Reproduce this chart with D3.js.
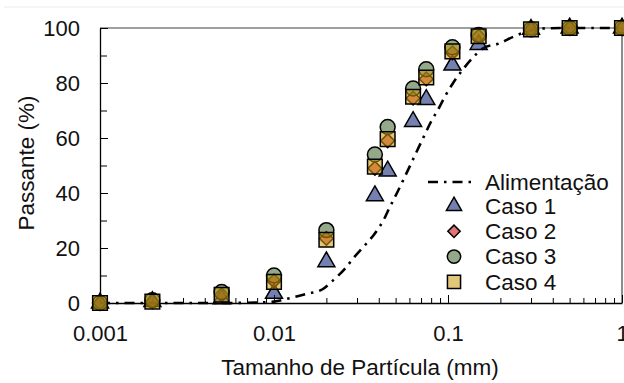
<!DOCTYPE html>
<html>
<head>
<meta charset="utf-8">
<script src="https://cdn.jsdelivr.net/npm/d3@7"></script>
<style>
  body { margin: 0; background: #fff; }
  svg { display: block; font-family: "Liberation Sans", Arial, sans-serif; }
</style>
</head>
<body>
<svg id="chart"></svg>
<script>
// sieve sizes (mm) and passing (%) per case
const sizes = [0.001, 0.002, 0.005, 0.01, 0.02, 0.038, 0.045, 0.063, 0.075, 0.106, 0.15, 0.3, 0.5, 1];
const caso1 = [0, 0.5, 1.5, 3.5, 15, 39, 48, 66, 74, 86.5, 94, 99.5, 100, 100];
const caso2 = [0, 0.5, 3, 8, 23.5, 49, 59, 74.5, 81.5, 91, 97, 99.5, 100, 100];
const caso3 = [0, 1, 4, 10, 26.5, 54, 64, 78, 85, 93, 97.5, 99.5, 100, 100];
const caso4 = [0, 0.5, 3, 7.7, 23, 49.6, 59.6, 75, 82, 91.5, 97, 99.5, 100, 100];

// feed curve (Alimentação)
const feedX = [0.001, 0.002, 0.005, 0.008, 0.01, 0.0126, 0.0154, 0.019, 0.022, 0.0256, 0.029, 0.033, 0.038,
  0.0425, 0.0464, 0.0509, 0.0553, 0.0606, 0.066, 0.0726, 0.08, 0.0878, 0.0958, 0.107, 0.122, 0.138,
  0.159, 0.197, 0.237, 0.28, 0.37, 0.5, 1];
const feedY = [0, 0, 0, 0.2, 0.5, 1.9, 3.3, 5, 8.4, 12.5, 16.8, 20.7, 25.3,
  30, 35, 40, 44.7, 50, 55, 60.5, 66, 70.4, 75, 80, 85, 89,
  92.6, 94.4, 96.8, 98.6, 99.9, 100, 100];

const xTicks = [0.001, 0.01, 0.1, 1];
const xTickLabels = ["0.001", "0.01", "0.1", "1"];
const yTicks = [0, 20, 40, 60, 80, 100];

const seriesNames = ["Caso 1", "Caso 2", "Caso 3", "Caso 4"];
const seriesValues = [caso1, caso2, caso3, caso4];
const seriesShapes = [d3.symbolTriangle, d3.symbolSquare, d3.symbolCircle, d3.symbolSquare];
const seriesRotate = [0, 45, 0, 0];
const seriesColors = ["#00186f", "#c60000", "#3a622a", "#ca990d"];
const seriesSizes = [125, 95, 175, 215];

const width = 624, height = 383;
const margin = {top: 28, right: 2, bottom: 80, left: 100};
const w = width - margin.left - margin.right;
const h = height - margin.top - margin.bottom;

const svg = d3.select("#chart").attr("width", width).attr("height", height);

svg.append("line")
  .attr("x1", 4).attr("x2", width).attr("y1", 7).attr("y2", 7)
  .attr("stroke", "#ebebeb");

const g = svg.append("g").attr("transform", `translate(${margin.left},${margin.top})`);

const x = d3.scaleLog().domain([0.001, 1]).range([0, w]);
const y = d3.scaleLinear().domain([0, 100]).range([h, 0]);

// frame top / right
g.append("line").attr("x1", 0).attr("x2", w).attr("y1", 0).attr("y2", 0)
  .attr("stroke", "#808080").attr("stroke-width", 1.5);
g.append("line").attr("x1", w).attr("x2", w).attr("y1", 0).attr("y2", h)
  .attr("stroke", "#404040").attr("stroke-width", 1.2);

// minor ticks
const xMinor = [];
[0.001, 0.01, 0.1].forEach(d => { for (let k = 2; k <= 9; k++) xMinor.push(d * k); });
g.append("g").attr("transform", `translate(0,${h})`)
  .call(d3.axisBottom(x).tickValues(xMinor).tickSize(-5).tickSizeOuter(0).tickFormat(""))
  .call(a => a.select(".domain").remove())
  .selectAll("line").attr("stroke", "#000");

g.append("g")
  .call(d3.axisLeft(y).tickValues([10, 30, 50, 70, 90]).tickSize(-7).tickSizeOuter(0).tickFormat(""))
  .call(a => a.select(".domain").remove())
  .selectAll("line").attr("stroke", "#000");

// main axes
const xAxis = g.append("g").attr("transform", `translate(0,${h})`)
  .call(d3.axisBottom(x).tickValues(xTicks).tickSize(-8).tickSizeOuter(0).tickPadding(22)
    .tickFormat((d, i) => xTickLabels[i]));
const yAxis = g.append("g")
  .call(d3.axisLeft(y).tickValues(yTicks).tickSize(-8).tickSizeOuter(0).tickPadding(20));

[xAxis, yAxis].forEach(a => {
  a.select(".domain").attr("stroke", "#000").attr("stroke-width", 1.3);
  a.selectAll(".tick line").attr("stroke", "#000");
  a.selectAll("text").attr("font-size", 22).attr("fill", "#111")
    .attr("font-family", "Liberation Sans, Arial, sans-serif");
});

// feed line
const line = d3.line()
  .x((d, i) => x(feedX[i]))
  .y(d => y(d))
  .curve(d3.curveMonotoneX);

g.append("path")
  .datum(feedY)
  .attr("fill", "none")
  .attr("stroke", "#000")
  .attr("stroke-width", 2.6)
  .attr("stroke-dasharray", "10,6,2.5,6")
  .attr("d", line);

// markers
seriesValues.forEach((vals, s) => {
  const sym = d3.symbol().type(seriesShapes[s]).size(seriesSizes[s]);
  g.append("g").selectAll("path")
    .data(vals)
    .join("path")
    .attr("d", sym)
    .attr("transform", (d, i) => `translate(${x(sizes[i])},${y(d)}) rotate(${seriesRotate[s]})`)
    .attr("fill", seriesColors[s])
    .attr("fill-opacity", 0.55)
    .attr("stroke", "#000")
    .attr("stroke-width", 1.5);
});

// legend
const lg = svg.append("g").attr("font-size", 22.5).attr("fill", "#111");
lg.append("line")
  .attr("x1", 428).attr("x2", 472).attr("y1", 182).attr("y2", 182)
  .attr("stroke", "#000").attr("stroke-width", 2.6)
  .attr("stroke-dasharray", "10,6,2.5,6");
lg.append("text").attr("x", 485).attr("y", 182).attr("dy", "0.35em").text("Alimentação");

seriesNames.forEach((name, s) => {
  const yy = 206 + s * 25.3;
  lg.append("path")
    .attr("d", d3.symbol().type(seriesShapes[s]).size(seriesSizes[s] * 0.8)())
    .attr("transform", `translate(454,${yy}) rotate(${seriesRotate[s]})`)
    .attr("fill", seriesColors[s])
    .attr("fill-opacity", 0.55)
    .attr("stroke", "#000")
    .attr("stroke-width", 1.5);
  lg.append("text").attr("x", 485).attr("y", yy).attr("dy", "0.35em").text(name);
});

// axis titles
svg.append("text")
  .attr("x", margin.left + w / 2 - 1).attr("y", 367).attr("dy", "0.35em")
  .attr("text-anchor", "middle").attr("font-size", 22.5).attr("fill", "#111")
  .text("Tamanho de Partícula (mm)");

svg.append("text")
  .attr("transform", "translate(26,163) rotate(-90)")
  .attr("dy", "0.35em")
  .attr("text-anchor", "middle").attr("font-size", 22.5).attr("fill", "#111")
  .text("Passante (%)");
</script>
</body>
</html>
